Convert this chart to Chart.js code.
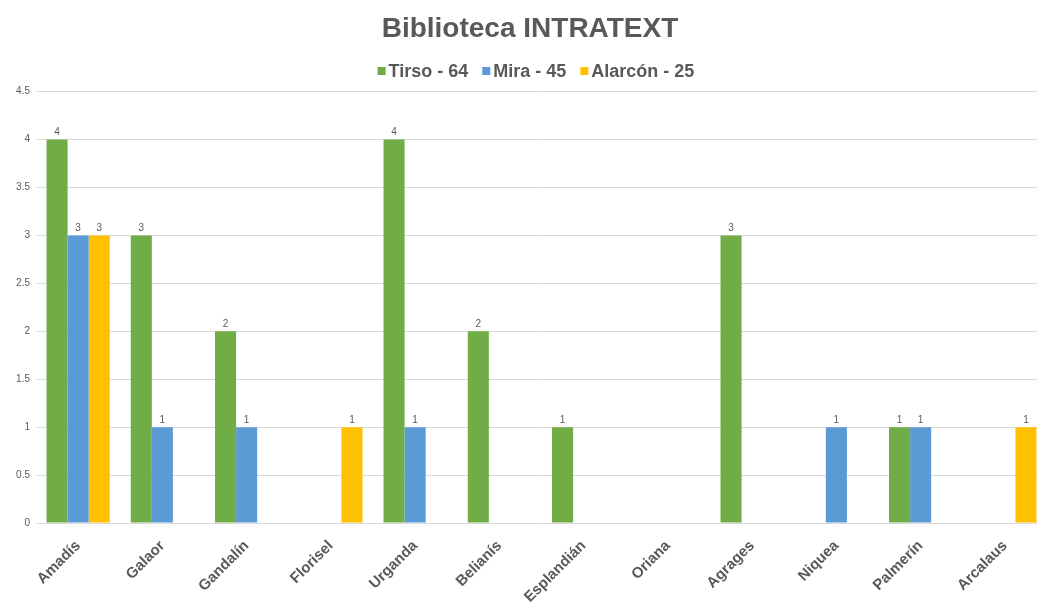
<!DOCTYPE html>
<html>
<head>
<meta charset="utf-8">
<title>Biblioteca INTRATEXT</title>
<script src="https://cdn.jsdelivr.net/npm/chart.js@4/dist/chart.umd.min.js"></script>
<style>
  html, body { margin: 0; padding: 0; background: #fff; }
  #wrap { width: 1037px; height: 603px; overflow: hidden; }
  canvas { display: block; }
</style>
</head>
<body>
<div id="wrap"><canvas id="chart" width="1056" height="603"></canvas></div>
<script>
const personajes = ['Amadís', 'Galaor', 'Gandalín', 'Florisel', 'Urganda', 'Belianís',
                    'Esplandián', 'Oriana', 'Agrages', 'Niquea', 'Palmerín', 'Arcalaus'];
const tirso   = [4, 3, 2, 0, 4, 2, 1, 0, 3, 0, 1, 0];
const mira    = [3, 1, 1, 0, 1, 0, 0, 0, 0, 1, 1, 0];
const alarcon = [3, 0, 0, 1, 0, 0, 0, 0, 0, 0, 0, 1];
const autores = ['Tirso - 64', 'Mira - 45', 'Alarcón - 25'];
const colores = ['#70AD47', '#5B9BD5', '#FFC000'];

const FONT = '"Liberation Sans", Arial, sans-serif';
const GRIS = '#595959';

// small value labels above each non-zero bar
const etiquetas = {
    id: 'etiquetas',
    afterDatasetsDraw(chart) {
        const ctx = chart.ctx;
        ctx.save();
        ctx.font = '10px ' + FONT;
        ctx.fillStyle = GRIS;
        ctx.textAlign = 'center';
        ctx.textBaseline = 'bottom';
        chart.data.datasets.forEach((ds, i) => {
            chart.getDatasetMeta(i).data.forEach((bar, j) => {
                if (ds.data[j] > 0) ctx.fillText(ds.data[j], bar.x, bar.y - 2);
            });
        });
        ctx.restore();
    }
};

// compact legend row under the title (square swatch tight against the text)
const leyenda = {
    id: 'leyenda',
    afterDraw(chart) {
        const ctx = chart.ctx;
        const y = 72, caja = 8, hueco = 3, sep = 14;
        ctx.save();
        ctx.font = 'bold 18px ' + FONT;
        ctx.textBaseline = 'middle';
        ctx.textAlign = 'left';
        const items = chart.data.datasets.map(ds => ({
            texto: ds.label, color: ds.backgroundColor,
            ancho: caja + hueco + ctx.measureText(ds.label).width
        }));
        const total = items.reduce((s, it) => s + it.ancho, 0) + sep * (items.length - 1);
        let x = chart.width / 2 + 8 - total / 2;
        items.forEach(it => {
            ctx.fillStyle = it.color;
            ctx.fillRect(x, y - 5, caja, caja);
            ctx.fillStyle = GRIS;
            ctx.fillText(it.texto, x + caja + hueco, y);
            x += it.ancho + sep;
        });
        ctx.restore();
    }
};

const ctx = document.getElementById('chart').getContext('2d');
new Chart(ctx, {
    type: 'bar',
    data: {
        labels: personajes,
        datasets: [tirso, mira, alarcon].map((d, i) => ({
            label: autores[i],
            data: d,
            backgroundColor: colores[i],
            borderWidth: 0,
            categoryPercentage: 0.75,
            barPercentage: 1.0
        }))
    },
    options: {
        responsive: false,
        animation: false,
        devicePixelRatio: 1,
        layout: { padding: { left: 13, right: 9, top: 0, bottom: 0 } },
        plugins: {
            title: {
                display: true,
                text: 'Biblioteca INTRATEXT',
                color: GRIS,
                font: { family: FONT, size: 28, weight: 'bold' },
                padding: { top: 12, bottom: 46 }
            },
            legend: { display: false },
            tooltip: { enabled: false }
        },
        scales: {
            x: {
                grid: { display: false },
                border: { display: false },
                ticks: {
                    color: GRIS,
                    font: { family: FONT, size: 15, weight: 'bold' },
                    minRotation: 45,
                    maxRotation: 45,
                    padding: 6
                },
                afterFit(scale) { scale.height = 80; }
            },
            y: {
                min: 0,
                max: 4.5,
                ticks: {
                    stepSize: 0.5,
                    color: GRIS,
                    font: { family: FONT, size: 10 },
                    padding: 6,
                    callback: v => v
                },
                grid: { color: '#d9d9d9', drawTicks: false },
                border: { display: false },
                afterFit(scale) { scale.width = 23; }
            }
        }
    },
    plugins: [etiquetas, leyenda]
});
</script>
</body>
</html>
